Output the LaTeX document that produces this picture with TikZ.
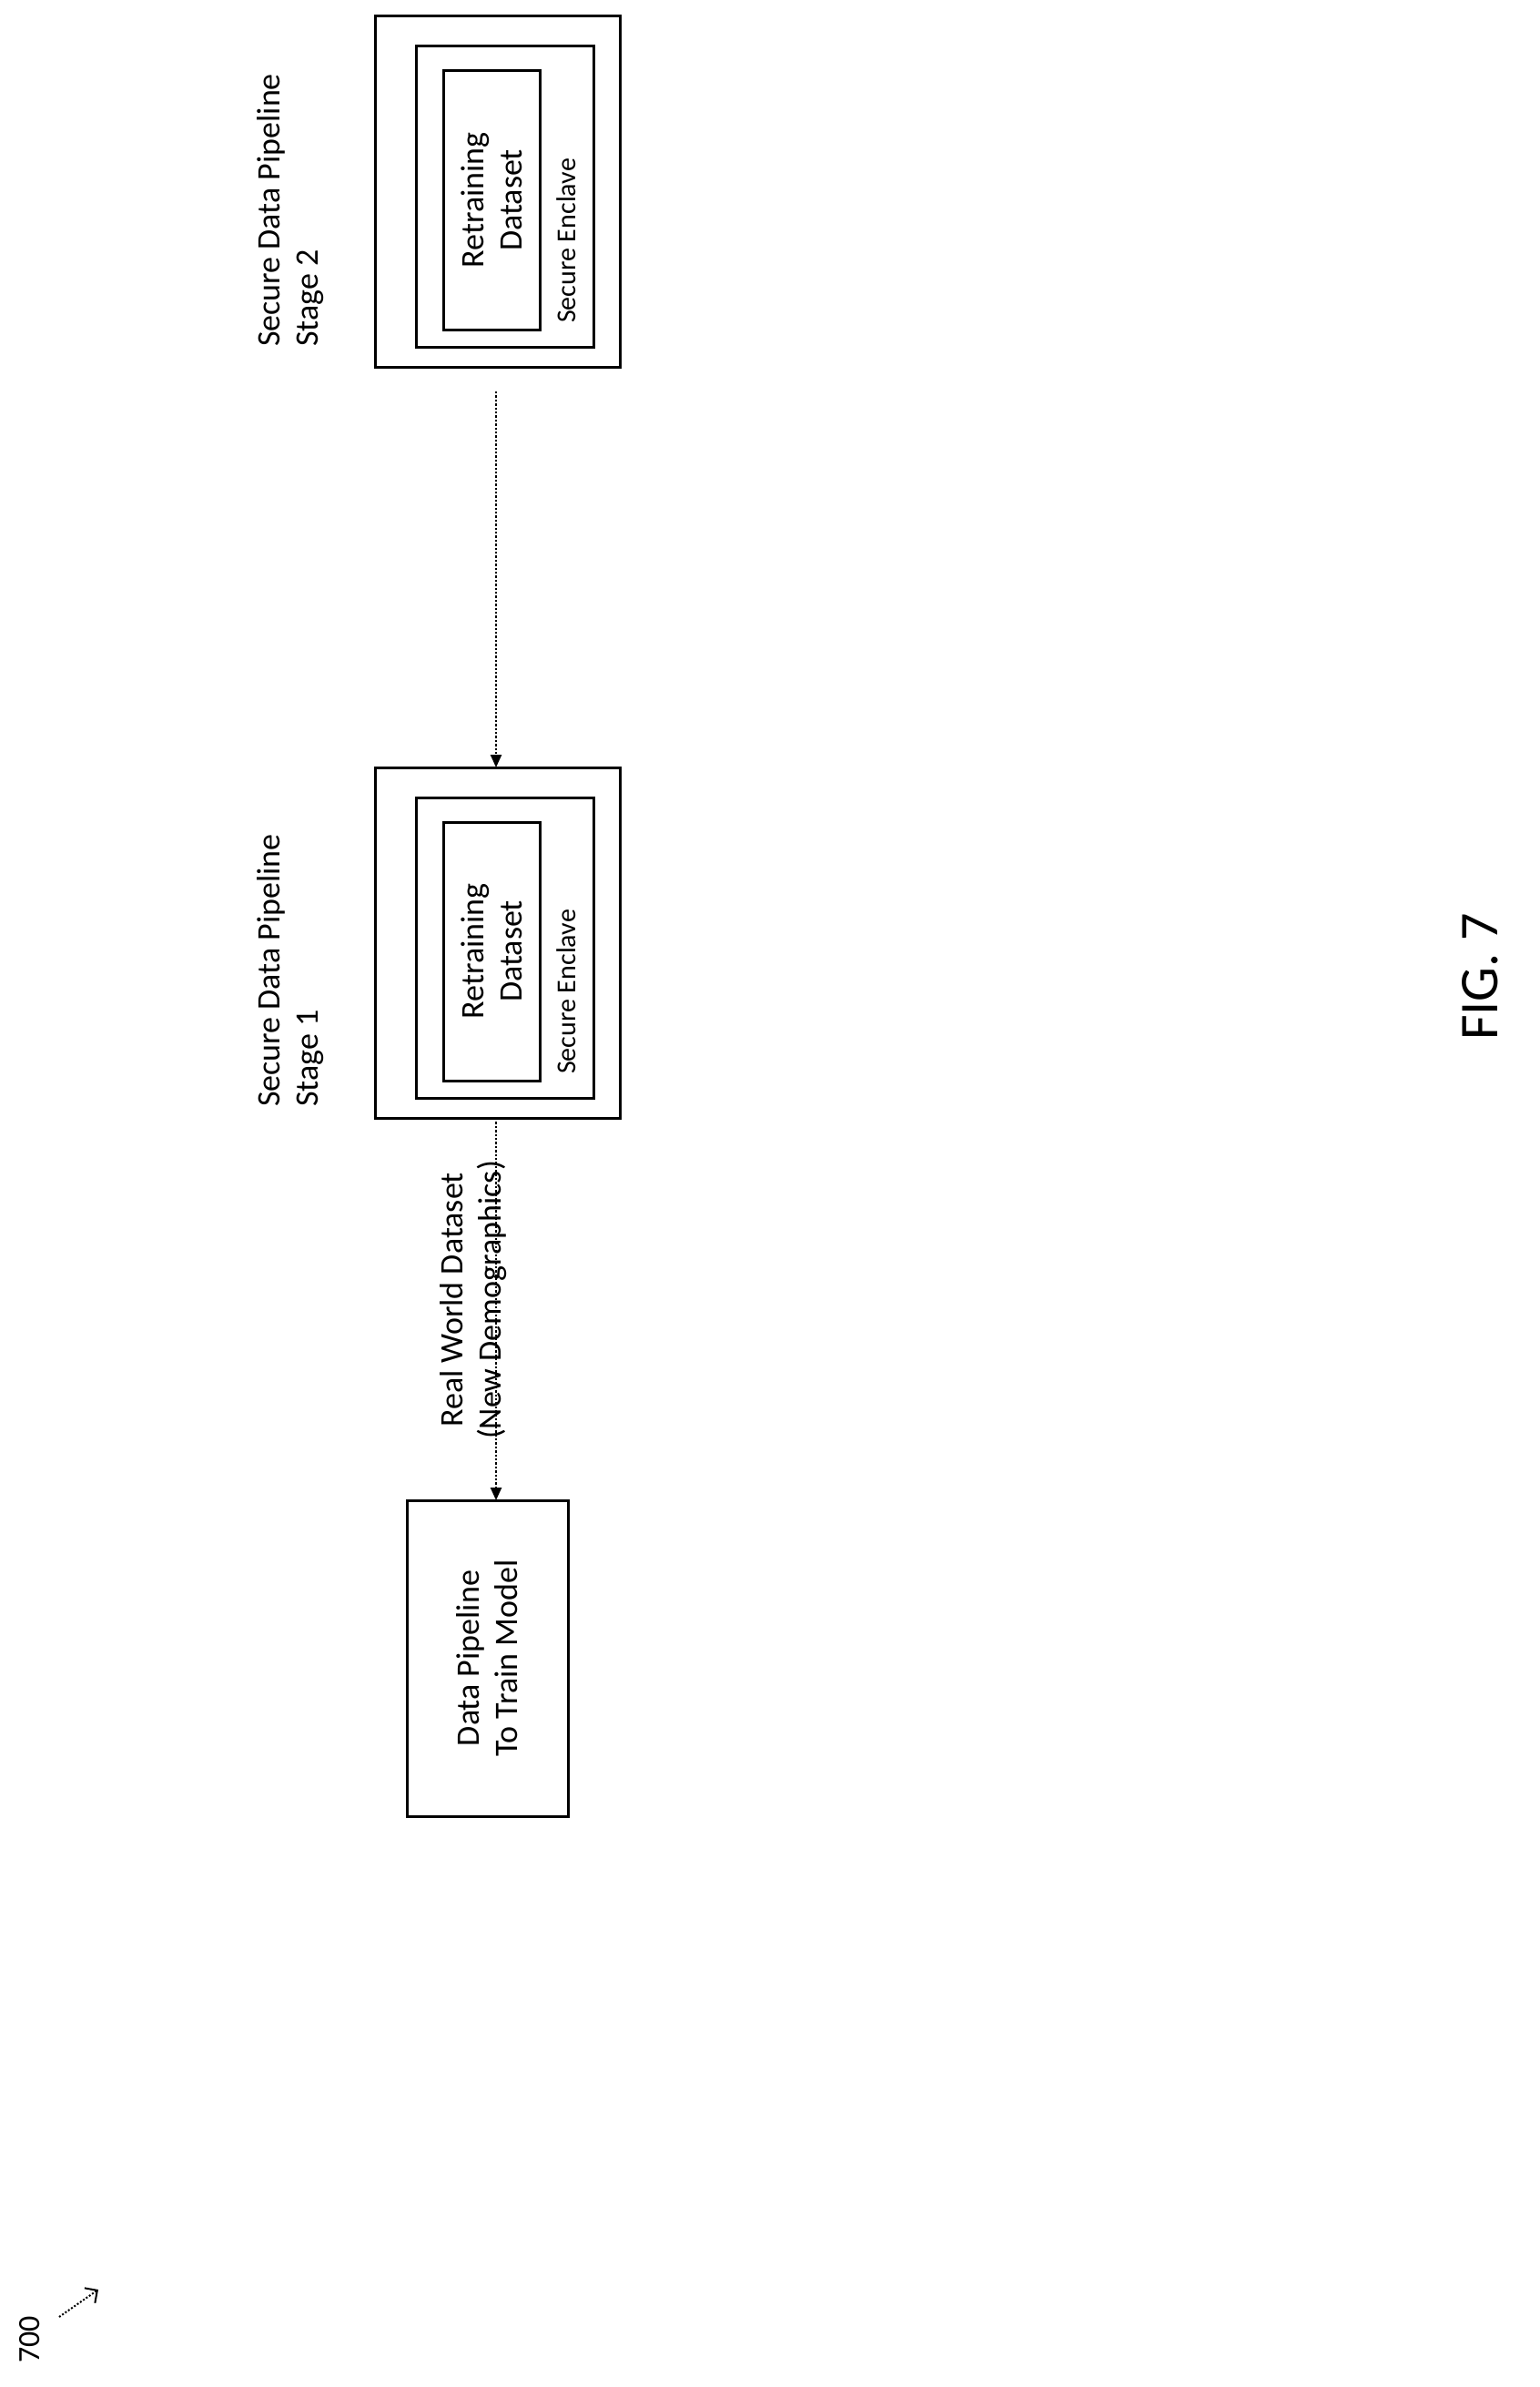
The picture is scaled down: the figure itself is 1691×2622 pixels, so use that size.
\documentclass[tikz,border=0pt]{standalone}
\usepackage{fontspec}
\setmainfont{Carlito}
\usetikzlibrary{arrows.meta}
\begin{document}
\begin{tikzpicture}[x=0.5pt,y=-0.5pt,
  box/.style={draw,line width=1.5pt},
  lbl/.style={font=\fontsize{18pt}{21pt}\selectfont,rotate=90,align=left},
  dotarrow/.style={densely dotted,line width=1.2pt,-{Triangle[length=7pt,width=6pt]}}]
\useasboundingbox (0,0) rectangle (1691,2622);
% stage 2
\draw[box] (412,18) rectangle (681,403);
\draw[box] (457,51) rectangle (652,381);
\draw[box] (487,78) rectangle (593,362);
\node[lbl,align=center] at (540,220) {Retraining\\Dataset};
\node[font=\fontsize{15pt}{18pt}\selectfont,rotate=90,anchor=west] at (622,362) {Secure Enclave};
\node[lbl,anchor=north west] at (275,388) {Secure Data Pipeline\\Stage 2};
\coordinate (s2) at (545,430);
% stage 1
\node[box,minimum width=134.5pt,minimum height=192.5pt,inner sep=0] (st1) at (546.5,1035.5) {};
\draw[box] (457,876) rectangle (652,1206);
\draw[box] (487,903) rectangle (593,1187);
\node[lbl,align=center] at (540,1045) {Retraining\\Dataset};
\node[font=\fontsize{15pt}{18pt}\selectfont,rotate=90,anchor=west] at (622,1187) {Secure Enclave};
\node[lbl,anchor=north west] at (275,1223) {Secure Data Pipeline\\Stage 1};
% data pipeline
\node[box,minimum width=88.5pt,minimum height=173.5pt,inner sep=0] (dp) at (535.5,1821.5) {};
\node[lbl,align=center] at (535.5,1821.5) {Data Pipeline\\To Train Model};
\draw[dotarrow] (s2) -- (545,843);
\draw[dotarrow] (545,1228) -- (545,1648);
\node[lbl,align=center] at (520,1428) {Real World Dataset\\(New Demographics)};
% fig
\node[font=\fontsize{30pt}{36pt}\selectfont,rotate=90] (fig) at (1626,1073) {FIG. 7};
\node[font=\fontsize{17pt}{20pt}\selectfont,rotate=90] (n700) at (33,2570) {700};
\coordinate (a1) at (65,2545);
\coordinate (a2) at (108,2515);
\draw[densely dotted,line width=1pt,-{Straight Barb[length=5pt]}] (a1) -- (a2);
\end{tikzpicture}
\end{document}
